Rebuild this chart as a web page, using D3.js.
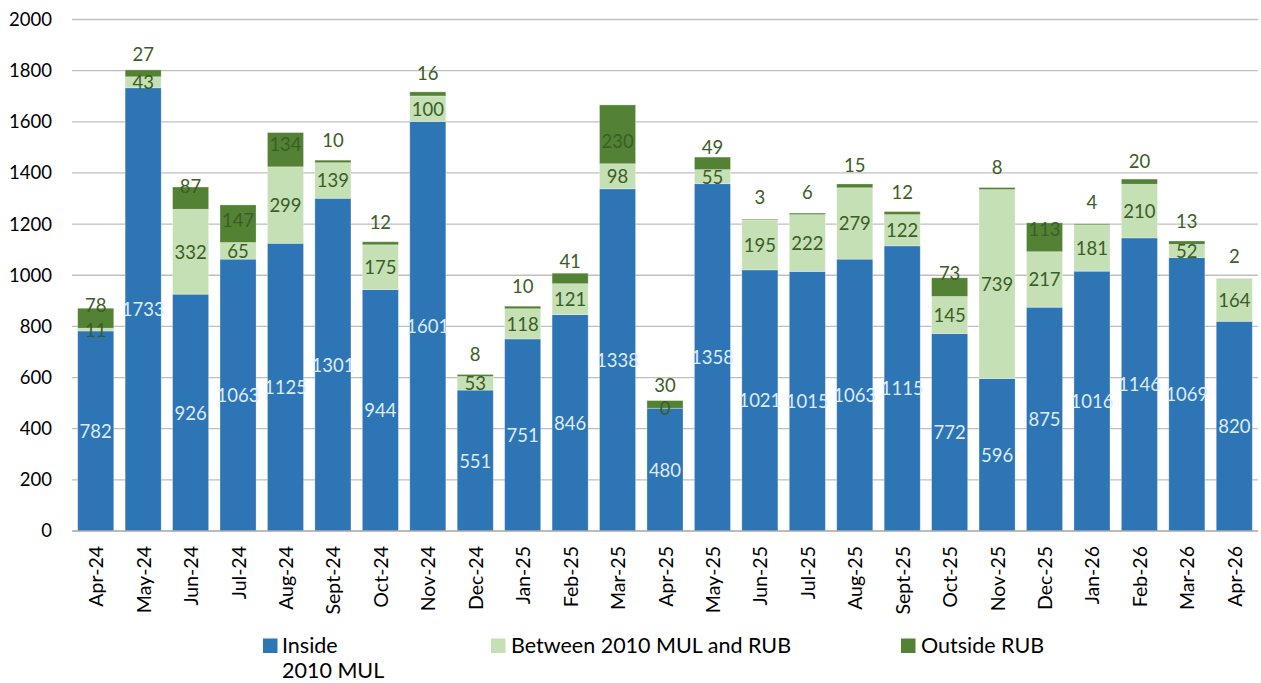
<!DOCTYPE html>
<html><head><meta charset="utf-8">
<script src="https://cdn.jsdelivr.net/npm/d3@7"></script>
<style>
html,body{margin:0;padding:0;background:#fff;}
text{font-family:Lato,"Open Sans",sans-serif;}
</style></head>
<body>
<svg id="chart" width="1261" height="683"></svg>
<script>
const categories = ["Apr-24","May-24","Jun-24","Jul-24","Aug-24","Sept-24","Oct-24","Nov-24","Dec-24","Jan-25","Feb-25","Mar-25","Apr-25","May-25","Jun-25","Jul-25","Aug-25","Sept-25","Oct-25","Nov-25","Dec-25","Jan-26","Feb-26","Mar-26","Apr-26"];
const inside  = [782,1733,926,1063,1125,1301,944,1601,551,751,846,1338,480,1358,1021,1015,1063,1115,772,596,875,1016,1146,1069,820];
const between = [11,43,332,65,299,139,175,100,53,118,121,98,0,55,195,222,279,122,145,739,217,181,210,52,164];
const outside = [78,27,87,147,134,10,12,16,8,10,41,230,30,49,3,6,15,12,73,8,113,4,20,13,2];
const seriesNames = ["Inside 2010 MUL","Between 2010 MUL and RUB","Outside RUB"];
const yTicks = [0,200,400,600,800,1000,1200,1400,1600,1800,2000];

const colors = ["#2E75B6","#C5E0B4","#548235"];
const labelColors = ["#DDEBF7","#3A5E25","#3A5E25"];
const FS = 18.5;

const svg = d3.select("#chart");
const x = d3.scaleBand().domain(categories).range([72,1258]).paddingInner(0.24).paddingOuter(0.12);
const y = d3.scaleLinear().domain([0,2000]).range([531,19.5]);

// gridlines
svg.append("g").selectAll("line").data(yTicks.filter(d=>d>0)).join("line")
  .attr("x1",72).attr("x2",1258).attr("y1",d=>y(d)).attr("y2",d=>y(d))
  .attr("stroke","#BFBFBF").attr("stroke-width",1.3);

// y axis labels
const yAxis = d3.axisLeft(y).tickValues(yTicks).tickSize(0).tickPadding(0).tickFormat(d3.format("d"));
const yg = svg.append("g").attr("transform","translate(52,0)").call(yAxis);
yg.select(".domain").remove();
yg.selectAll("text").attr("font-size",FS).attr("fill","#000").style("font-family","Lato");

// stack
const table = categories.map((c,i)=>({cat:c, s0:inside[i], s1:between[i], s2:outside[i]}));
const stack = d3.stack().keys(["s0","s1","s2"])(table);

const layers = svg.append("g").selectAll("g").data(stack).join("g")
  .attr("fill",(d,i)=>colors[i]);
layers.selectAll("rect").data(d=>d).join("rect")
  .attr("x",d=>x(d.data.cat)).attr("width",x.bandwidth())
  .attr("y",d=>y(d[1])).attr("height",d=>y(d[0])-y(d[1]))
  .attr("stroke","rgba(255,255,255,0.35)").attr("stroke-width",0.8);

// baseline
svg.append("line").attr("x1",72).attr("x2",1258).attr("y1",y(0)).attr("y2",y(0))
  .attr("stroke","#A6A6A6").attr("stroke-width",1.3);

// labels
stack.forEach((layer,si)=>{
  svg.append("g").selectAll("text").data(layer).join("text")
    .attr("x",d=>x(d.data.cat)+x.bandwidth()/2)
    .attr("y",d=>{
      if(si===2){ return y(d[0]) - 23; }
      return (y(d[0])+y(d[1]))/2;
    })
    .attr("text-anchor","middle").attr("dominant-baseline","central")
    .attr("font-size",FS).attr("fill",labelColors[si])
    .text(d=>d[1]-d[0]);
});

// x axis labels
const xAxis = d3.axisBottom(x).tickSize(0).tickPadding(0);
const xg = svg.append("g").attr("transform",`translate(0,${y(0)})`).call(xAxis);
xg.select(".domain").remove();
xg.selectAll("text")
  .attr("font-size",19.5).attr("fill","#000").style("font-family","Lato")
  .attr("text-anchor","end").attr("dominant-baseline","central")
  .attr("transform","rotate(-90)").attr("x",-15).attr("y",0).attr("dy",null);

// legend
const legendItems = [
  {sq:263, tx:282, lines:["Inside","2010 MUL"]},
  {sq:491, tx:511, lines:["Between 2010 MUL and RUB"]},
  {sq:901, tx:921, lines:["Outside RUB"]}
];
const lg = svg.append("g");
legendItems.forEach((it,i)=>{
  lg.append("rect").attr("x",it.sq).attr("y",638.5).attr("width",14.5).attr("height",14.5).attr("fill",colors[i]);
  const t = lg.append("text").attr("x",it.tx).attr("y",653).attr("font-size",21.5).attr("fill","#000");
  it.lines.forEach((l,j)=>{
    t.append("tspan").attr("x",it.tx).attr("dy",j===0?0:25).text(l);
  });
});
</script>
</body></html>
